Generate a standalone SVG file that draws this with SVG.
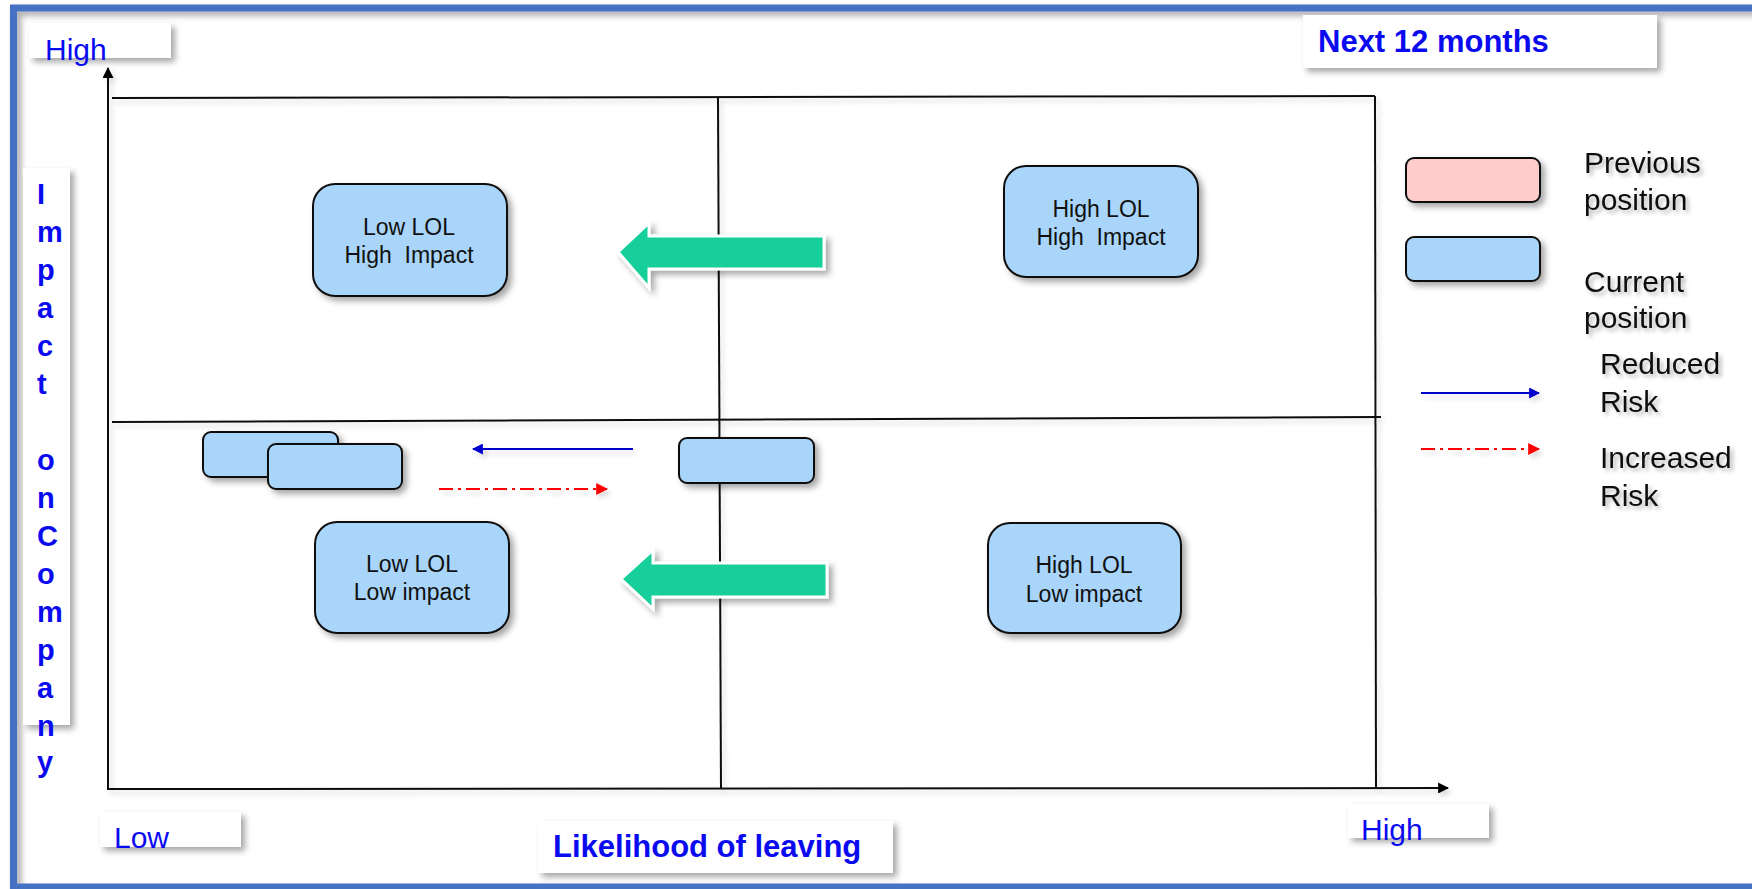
<svg xmlns="http://www.w3.org/2000/svg" width="1752" height="889" viewBox="0 0 1752 889">
  <defs>
    <filter id="sh" x="-20%" y="-20%" width="150%" height="160%">
      <feDropShadow dx="4" dy="4" stdDeviation="3" flood-color="#000" flood-opacity="0.35"/>
    </filter>
    <filter id="lsh" filterUnits="userSpaceOnUse" x="0" y="0" width="1752" height="889">
      <feDropShadow dx="3" dy="4" stdDeviation="2.5" flood-color="#000" flood-opacity="0.15"/>
    </filter>
    <filter id="tsh" x="-10%" y="-30%" width="130%" height="170%">
      <feDropShadow dx="3" dy="3" stdDeviation="2" flood-color="#000" flood-opacity="0.3"/>
    </filter>
    <marker id="ablk" viewBox="0 0 10 10" refX="9" refY="5" markerWidth="11" markerHeight="11" markerUnits="userSpaceOnUse" orient="auto">
      <path d="M0,0 L10,5 L0,10 z" fill="#000"/>
    </marker>
    <marker id="ablu" viewBox="0 0 10 10" refX="9" refY="5" markerWidth="11" markerHeight="11" markerUnits="userSpaceOnUse" orient="auto">
      <path d="M0,0 L10,5 L0,10 z" fill="#0000CC"/>
    </marker>
    <marker id="ared" viewBox="0 0 10 10" refX="9" refY="5" markerWidth="12" markerHeight="12" markerUnits="userSpaceOnUse" orient="auto">
      <path d="M0,0 L10,5 L0,10 z" fill="#FF0000"/>
    </marker>
  </defs>
  <style>
    .lbl { fill: #fff; filter: url(#sh); }
    .ax { font-family: "Liberation Sans", Arial, sans-serif; font-size: 30px; fill: #0A0AF0; }
    .axb { font-family: "Liberation Sans", Arial, sans-serif; font-size: 31px; font-weight: bold; fill: #0A0AF0; }
    .vt { font-family: "Liberation Sans", Arial, sans-serif; font-size: 29px; font-weight: bold; fill: #0A0AF0; }
    .node rect { fill: #A9D5FA; stroke: #111; stroke-width: 2; filter: url(#sh); }
    .node text { font-family: "Liberation Sans", Arial, sans-serif; font-size: 23px; fill: #111; text-anchor: middle; }
    .grid line { stroke: #111; stroke-width: 2; fill: none; }
    .lg { font-family: "Liberation Sans", Arial, sans-serif; font-size: 30px; fill: #111; filter: url(#tsh); }
    .garrow { fill: #12CF9A; stroke: #fff; stroke-width: 3; filter: url(#sh); }
    .red { stroke: #FF0000; stroke-width: 2; stroke-dasharray: 14 5 3 5; fill: none; filter: url(#lsh); }
    .blu { stroke: #0000CC; stroke-width: 2; fill: none; filter: url(#lsh); }
  </style>

  <rect width="1752" height="889" fill="#fff"/>

  <!-- outer frame -->
  <rect id="frame" x="13.5" y="8" width="1800" height="879" fill="none" stroke="#4472C4" stroke-width="7" filter="url(#sh)"/>

  <!-- axes & grid -->
  <g id="grid" class="grid" filter="url(#lsh)">
    <line x1="112" y1="98" x2="1375" y2="96"/>
    <line x1="1375" y1="96" x2="1376" y2="789"/>
    <line x1="718" y1="98" x2="721" y2="789"/>
    <line x1="112" y1="422" x2="1381" y2="417"/>
    <line x1="108" y1="790" x2="108" y2="68" marker-end="url(#ablk)"/>
    <line x1="108" y1="789" x2="1448" y2="788" marker-end="url(#ablk)"/>
  </g>

  <!-- axis labels -->
  <g id="label-high-y">
    <rect class="lbl" x="29" y="23" width="142" height="35"/>
    <text class="ax" x="45" y="60">High</text>
  </g>
  <g id="label-low-x">
    <rect class="lbl" x="100" y="812" width="141" height="35"/>
    <text class="ax" x="114" y="848">Low</text>
  </g>
  <g id="label-high-x">
    <rect class="lbl" x="1348" y="804" width="141" height="34"/>
    <text class="ax" x="1361" y="840">High</text>
  </g>
  <g id="label-likelihood">
    <rect class="lbl" x="538" y="821" width="355" height="52"/>
    <text class="axb" x="553" y="857">Likelihood of leaving</text>
  </g>
  <g id="label-next">
    <rect class="lbl" x="1303" y="15" width="354" height="53"/>
    <text class="axb" x="1318" y="52">Next 12 months</text>
  </g>
  <g id="label-impact">
    <rect class="lbl" x="23" y="168" width="47" height="557"/>
    <text class="vt"><tspan x="37" y="204">I</tspan><tspan x="37" y="242">m</tspan><tspan x="37" y="280">p</tspan><tspan x="37" y="318">a</tspan><tspan x="37" y="356">c</tspan><tspan x="37" y="394">t</tspan><tspan x="37" y="470">o</tspan><tspan x="37" y="508">n</tspan><tspan x="37" y="546">C</tspan><tspan x="37" y="584">o</tspan><tspan x="37" y="622">m</tspan><tspan x="37" y="660">p</tspan><tspan x="37" y="698">a</tspan><tspan x="37" y="736">n</tspan><tspan x="37" y="772">y</tspan></text>
  </g>

  <!-- quadrant nodes -->
  <g id="node-low-high" class="node">
    <rect x="313" y="184" width="194" height="112" rx="22"/>
    <text x="409" y="235">Low LOL</text>
    <text x="409" y="263" xml:space="preserve">High  Impact</text>
  </g>
  <g id="node-high-high" class="node">
    <rect x="1004" y="166" width="194" height="111" rx="22"/>
    <text x="1101" y="217">High LOL</text>
    <text x="1101" y="245" xml:space="preserve">High  Impact</text>
  </g>
  <g id="node-low-low" class="node">
    <rect x="315" y="522" width="194" height="111" rx="22"/>
    <text x="412" y="572">Low LOL</text>
    <text x="412" y="600">Low impact</text>
  </g>
  <g id="node-high-low" class="node">
    <rect x="988" y="523" width="193" height="110" rx="22"/>
    <text x="1084" y="573">High LOL</text>
    <text x="1084" y="602">Low impact</text>
  </g>

  <!-- small position boxes -->
  <g id="pos-a" class="node"><rect x="203" y="432" width="135" height="45" rx="8"/></g>
  <g id="pos-b" class="node"><rect x="268" y="444" width="134" height="45" rx="8"/></g>
  <g id="pos-c" class="node"><rect x="679" y="438" width="135" height="45" rx="8"/></g>

  <!-- connectors -->
  <g id="connectors">
    <polygon class="garrow" points="618,252 649,223 649,236 824,236 824,269 649,269 649,288"/>
    <polygon class="garrow" points="621,579 653,550 653,563 827,563 827,597 653,597 653,609"/>
    <line class="blu" x1="633" y1="449" x2="473" y2="449" marker-end="url(#ablu)"/>
    <line class="red" x1="439" y1="489" x2="607" y2="489" marker-end="url(#ared)"/>
  </g>

  <!-- legend -->
  <g id="legend-prev">
    <rect x="1406" y="158" width="134" height="44" rx="8" fill="#FFCCCC" stroke="#111" stroke-width="2" filter="url(#sh)"/>
    <text class="lg" x="1584" y="173">Previous</text>
    <text class="lg" x="1584" y="210">position</text>
  </g>
  <g id="legend-cur">
    <rect x="1406" y="237" width="134" height="44" rx="8" fill="#A9D5FA" stroke="#111" stroke-width="2" filter="url(#sh)"/>
    <text class="lg" x="1584" y="292">Current</text>
    <text class="lg" x="1584" y="328">position</text>
  </g>
  <g id="legend-reduced">
    <line class="blu" x1="1421" y1="393" x2="1539" y2="393" marker-end="url(#ablu)"/>
    <text class="lg" x="1600" y="374">Reduced</text>
    <text class="lg" x="1600" y="412">Risk</text>
  </g>
  <g id="legend-increased">
    <line class="red" x1="1421" y1="449" x2="1539" y2="449" marker-end="url(#ared)"/>
    <text class="lg" x="1600" y="468">Increased</text>
    <text class="lg" x="1600" y="506">Risk</text>
  </g>
</svg>
